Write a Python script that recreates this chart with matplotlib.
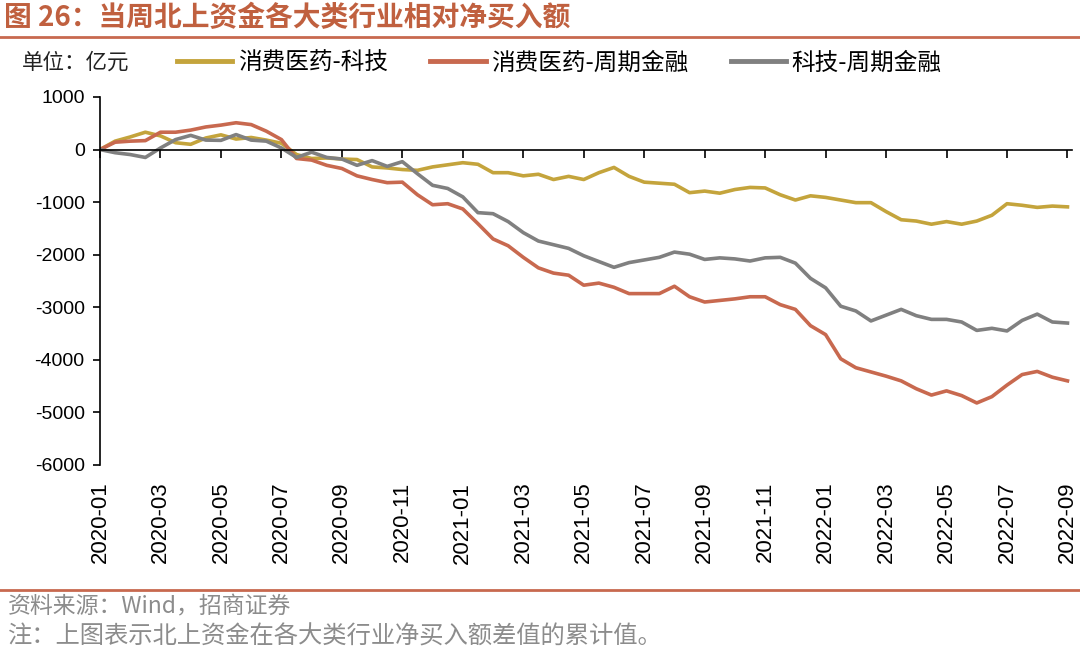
import matplotlib
matplotlib.use("Agg")
import matplotlib.pyplot as plt
from matplotlib.lines import Line2D

plt.rcParams['font.family'] = ['Noto Sans CJK SC', 'DejaVu Sans']
plt.rcParams['axes.unicode_minus'] = False

# 半月一个点，x 为自 2020-01 起的月数
months = [i * 0.5 for i in range(65)]

xfyy_kj = [0, 160, 240, 330, 260, 130, 100, 220, 280, 200,
           230, 180, 120, -95, -170, -160, -180, -190, -330, -350,
           -380, -395, -330, -290, -250, -280, -440, -440, -500, -470,
           -570, -510, -570, -440, -340, -510, -620, -640, -660, -820,
           -790, -830, -760, -720, -730, -860, -960, -880, -910, -960,
           -1010, -1010, -1180, -1335, -1360, -1420, -1370, -1420, -1360, -1250,
           -1030, -1060, -1100, -1075, -1090]

xfyy_zqjr = [0, 140, 160, 170, 330, 330, 370, 430, 465, 510,
             475, 350, 190, -170, -200, -300, -360, -500, -570, -630,
             -620, -860, -1050, -1030, -1130, -1410, -1700, -1830, -2050, -2250,
             -2350, -2390, -2580, -2540, -2620, -2740, -2740, -2740, -2600, -2800,
             -2900, -2870, -2840, -2800, -2800, -2950, -3040, -3350, -3520, -3980,
             -4150, -4230, -4310, -4400, -4550, -4670, -4590, -4680, -4820, -4700,
             -4480, -4280, -4220, -4330, -4400]

kj_zqjr = [0, -60, -95, -150, 30, 190, 270, 180, 175, 285,
           180, 160, 30, -150, -50, -150, -180, -300, -210, -320,
           -230, -460, -680, -740, -900, -1200, -1220, -1370, -1580, -1740,
           -1810, -1880, -2020, -2130, -2240, -2150, -2100, -2050, -1950, -1990,
           -2090, -2060, -2080, -2120, -2060, -2050, -2160, -2450, -2630, -2980,
           -3070, -3260, -3150, -3040, -3160, -3230, -3230, -3280, -3440, -3400,
           -3450, -3250, -3130, -3280, -3300]

names = ['消费医药-科技', '消费医药-周期金融', '科技-周期金融']
colors = ['#C4A43C', '#C8694F', '#808080']

tick_pos = list(range(0, 33, 2))
tick_labels = ['2020-01', '2020-03', '2020-05', '2020-07', '2020-09', '2020-11',
               '2021-01', '2021-03', '2021-05', '2021-07', '2021-09', '2021-11',
               '2022-01', '2022-03', '2022-05', '2022-07', '2022-09']

fig = plt.figure(figsize=(10.8, 6.54), dpi=100)
ax = fig.add_axes([0.0926, 0.289, 0.9, 0.5627])

for ys, c, n in zip([xfyy_kj, xfyy_zqjr, kj_zqjr], colors, names):
    ax.plot(months, ys, color=c, lw=2.6, label=n, solid_joinstyle='round')

ax.set_xlim(0, 32.15)
ax.set_ylim(-6000, 1000)
ax.set_yticks(range(-6000, 1001, 1000))
ax.tick_params(axis='y', direction='out', length=5, width=1.2, labelsize=14, pad=6)
for t in ax.get_yticklabels():
    t.set_family('Liberation Sans')

ax.spines['top'].set_visible(False)
ax.spines['right'].set_visible(False)
ax.spines['left'].set_linewidth(1.2)
ax.spines['bottom'].set_position(('data', 0))
ax.spines['bottom'].set_linewidth(1.2)
ax.set_xticks(tick_pos)
ax.tick_params(axis='x', direction='out', length=6, width=1.2, labelbottom=False)

sec = ax.secondary_xaxis(0.0)
sec.set_xticks(tick_pos)
sec.set_xticklabels(tick_labels, rotation=90, fontsize=16, family='Liberation Sans')
sec.tick_params(length=0, pad=12)
sec.spines['bottom'].set_visible(False)

# 标题与分隔线
fig.text(0.004, 1 - 18 / 654, '图 26：当周北上资金各大类行业相对净买入额',
         fontsize=20, fontweight='bold', color='#C0603F', va='center', ha='left')
fig.add_artist(Line2D([0, 1], [1 - 37 / 654, 1 - 37 / 654], color='#C8694F', lw=2))
fig.add_artist(Line2D([0, 1], [1 - 590 / 654, 1 - 590 / 654], color='#C8694F', lw=2))

fig.text(22 / 1080, 1 - 63 / 654, '单位：亿元', fontsize=15.5, va='center', ha='left', color='#222222')
leg = ax.legend(loc='center left', bbox_to_anchor=(177 / 1080, 1 - 63 / 654),
                bbox_transform=fig.transFigure, ncol=3, frameon=False,
                fontsize=17, handlelength=2.35, handletextpad=0.22,
                columnspacing=1.8, borderpad=0, borderaxespad=0)
for line in leg.get_lines():
    line.set_linewidth(3.5)

fig.text(8 / 1080, 1 - 607 / 654, '资料来源：Wind，招商证券', fontsize=16.5,
         color='#8C8C8C', va='center', ha='left')
fig.text(8 / 1080, 1 - 637 / 654, '注：上图表示北上资金在各大类行业净买入额差值的累计值。',
         fontsize=17.5, color='#8C8C8C', va='center', ha='left')

fig.savefig('out.png', dpi=100)
